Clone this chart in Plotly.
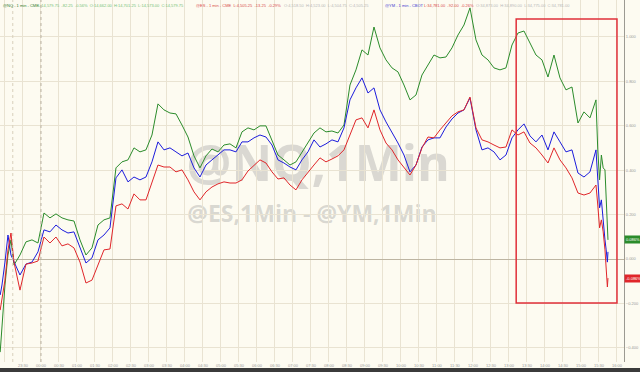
import plotly.graph_objects as go

# time axis: minutes from midnight (1-min bars sampled)
t_head = [-68, -65, -60, -55, -50]
t_grid = list(range(-45, 926, 10))
t_tail = [928, 931, 934, 937, 940, 942, 944, 945]
times = t_head + t_grid + t_tail

# % change, @NQ (green)
nq = ([-0.419, -0.297, -0.117, 0.018, 0.086] +
      [-0.027, 0.018, 0.077, 0.086, 0.072, 0.207, 0.185, 0.203, 0.185, 0.176,
       0.171, 0.086, 0.018, 0.050, 0.153, 0.176, 0.185, 0.410, 0.437, 0.446,
       0.500, 0.482, 0.491, 0.558, 0.698, 0.671, 0.657, 0.653, 0.603, 0.549,
       0.464, 0.410, 0.464, 0.495, 0.482, 0.513, 0.518, 0.500, 0.572, 0.590,
       0.581, 0.599, 0.599, 0.536, 0.468, 0.446, 0.423, 0.437, 0.482, 0.527,
       0.567, 0.590, 0.572, 0.576, 0.567, 0.603, 0.783, 0.851, 0.941, 0.918,
       1.044, 0.950, 0.896, 0.860, 0.842, 0.783, 0.716, 0.738, 0.828, 0.873,
       0.918, 0.905, 0.909, 0.950, 1.008, 1.053, 1.130, 0.986, 0.918, 0.896,
       0.860, 0.851, 0.860, 0.963, 1.017, 1.026, 0.972, 0.918, 0.896, 0.819,
       0.918, 0.815, 0.761, 0.774, 0.612, 0.662, 0.635, 0.716] +
      [0.491, 0.356, 0.468, 0.410, 0.401, 0.266, 0.131, 0.086])

# % change, @YM (blue)
ym = ([-0.162, -0.117, -0.014, 0.108, 0.018] +
      [-0.014, -0.072, -0.023, -0.014, 0.032, 0.131, 0.122, 0.153, 0.131, 0.117,
       0.122, 0.054, -0.018, 0.005, 0.086, 0.108, 0.140, 0.365, 0.401, 0.347,
       0.369, 0.356, 0.369, 0.437, 0.527, 0.491, 0.500, 0.482, 0.464, 0.477,
       0.410, 0.369, 0.423, 0.446, 0.468, 0.491, 0.491, 0.482, 0.527, 0.527,
       0.545, 0.558, 0.549, 0.513, 0.446, 0.432, 0.414, 0.401, 0.446, 0.482,
       0.536, 0.504, 0.518, 0.536, 0.527, 0.590, 0.716, 0.770, 0.815, 0.747,
       0.770, 0.671, 0.617, 0.572, 0.522, 0.468, 0.392, 0.423, 0.504, 0.536,
       0.545, 0.545, 0.594, 0.630, 0.657, 0.671, 0.725, 0.581, 0.491, 0.500,
       0.482, 0.446, 0.468, 0.545, 0.581, 0.608, 0.554, 0.527, 0.558, 0.491,
       0.572, 0.527, 0.482, 0.491, 0.387, 0.369, 0.392, 0.491] +
      [0.378, 0.230, 0.266, 0.153, 0.086, 0.041, -0.014, 0.032])

# % change, @ES (red)
es = ([-0.230, -0.185, -0.095, 0.041, 0.117] +
      [-0.014, -0.140, -0.023, -0.018, -0.009, 0.099, 0.072, 0.099, 0.059, 0.068,
       0.050, -0.014, -0.108, -0.095, -0.027, 0.041, 0.045, 0.239, 0.248, 0.225,
       0.293, 0.266, 0.266, 0.342, 0.423, 0.414, 0.414, 0.392, 0.401, 0.356,
       0.302, 0.266, 0.302, 0.324, 0.338, 0.347, 0.342, 0.342, 0.356, 0.396,
       0.419, 0.446, 0.432, 0.392, 0.360, 0.365, 0.333, 0.311, 0.356, 0.392,
       0.423, 0.455, 0.437, 0.450, 0.464, 0.491, 0.558, 0.626, 0.635, 0.590,
       0.671, 0.581, 0.522, 0.491, 0.446, 0.414, 0.378, 0.423, 0.500, 0.549,
       0.545, 0.581, 0.612, 0.644, 0.662, 0.671, 0.729, 0.590, 0.536, 0.527,
       0.513, 0.500, 0.504, 0.581, 0.558, 0.572, 0.522, 0.500, 0.468, 0.432,
       0.500, 0.446, 0.410, 0.365, 0.297, 0.288, 0.297, 0.333] +
      [0.243, 0.140, 0.176, 0.122, 0.041, -0.027, -0.126, -0.086])

y_ticks = [-0.4, -0.2, 0.0, 0.2, 0.4, 0.6, 0.8, 1.0]
x_ticks = list(range(-60, 961, 30))
x_labels = [f"{(v // 60) % 24:02d}:{v % 60:02d}" for v in x_ticks]

GREEN = "#2b8c2b"
BLUE = "#1c1cdc"
RED = "#e0262a"
BG = "#fdfbf1"
GRID = "#e9e3d2"

fig = go.Figure()
for name, vals, col in [("@NQ", nq, GREEN), ("@YM", ym, BLUE), ("@ES", es, RED)]:
    fig.add_trace(go.Scatter(x=times, y=vals, mode="lines", name=name,
                             line=dict(color=col, width=1)))

fig.update_layout(
    width=640, height=372,
    margin=dict(l=0, r=16, t=0, b=10),
    paper_bgcolor=BG, plot_bgcolor=BG,
    showlegend=False,
    xaxis=dict(range=[-68.3, 971.7], tickvals=x_ticks, ticktext=x_labels,
               showgrid=True, gridcolor=GRID, gridwidth=1, zeroline=False,
               tickfont=dict(size=4, color="#9a9a9a", family="Liberation Sans"),
               ticks="", showline=False, ticklabelstandoff=0),
    yaxis=dict(range=[-0.4635, 1.1655], side="right", tickvals=y_ticks,
               tickformat=".3f", ticksuffix="%",
               showgrid=True, gridcolor=GRID, gridwidth=1,
               zeroline=True, zerolinecolor="#bdb5a2", zerolinewidth=1,
               showline=True, linecolor="#9c9a92", linewidth=1,
               tickfont=dict(size=4, color="#9a9a9a", family="Liberation Sans"),
               ticks=""),
)

# session markers
fig.add_vline(x=-47, line=dict(color="#d8d0bc", width=1, dash="dot"))
fig.add_vline(x=0, line=dict(color="#b9b1a0", width=1, dash="dot"))

# highlight box
fig.add_shape(type="rect", x0=792, x1=960, y0=-0.198, y1=1.080,
              line=dict(color="#e0303a", width=1.5), fillcolor="rgba(0,0,0,0)")

# watermarks (under traces)
fig.add_shape(type="rect", xref="paper", yref="paper", x0=0.2, x1=0.82, y0=0.47, y1=0.62,
              line=dict(width=0), fillcolor="rgba(0,0,0,0)", layer="between",
              label=dict(text="<b>@NQ,1Min</b>", textposition="middle center",
                         font=dict(size=50, color="rgba(150,150,150,0.34)", family="Open Sans")))
fig.add_shape(type="rect", xref="paper", yref="paper", x0=0.2, x1=0.8, y0=0.36, y1=0.45,
              line=dict(width=0), fillcolor="rgba(0,0,0,0)", layer="between",
              label=dict(text="<b>@ES,1Min - @YM,1Min</b>", textposition="middle center",
                         font=dict(size=23, color="rgba(150,150,150,0.36)", family="Open Sans")))

# bottom dark bar
fig.add_shape(type="rect", xref="paper", yref="paper", x0=0, x1=1.03, y0=-0.0166, y1=-0.03,
              line=dict(width=0), fillcolor="#3b3b3b")

# last value labels
for vals, col in [(nq, GREEN), (es, RED)]:
    fig.add_annotation(x=1.0, xref="paper", y=vals[-1], yref="y", xanchor="left",
                       text=f"{vals[-1]:.3f}%", showarrow=False, bgcolor=col,
                       font=dict(size=4, color="white", family="Liberation Sans"),
                       borderpad=1)

# header text row
header = [
    (1, "@NQ - 1 min - CME", "#2a7a2a"),
    (36, "L:14,579.75  -82.25  -0.56%  O:14,662.00  H:14,701.25  L:14,573.00  C:14,579.75", "#76c276"),
    (194, "@ES - 1 min - CME  L:4,505.25  -13.25  -0.29%", "#d84a4a"),
    (282, "O:4,518.50  H:4,523.00  L:4,504.75  C:4,505.25", "#b8b8b8"),
    (383, "@YM - 1 min - CBOT", "#3a3ad0"),
    (422, "L:34,781.00  -92.00  -0.26%", "#d84a4a"),
    (474, "O:34,873.00  H:34,890.00  L:34,775.00  C:34,781.00", "#b8b8b8"),
]
for xp, txt, col in header:
    fig.add_annotation(x=xp / 624, xref="paper", y=1, yref="paper", xanchor="left",
                       yanchor="top", yshift=-1, text=txt, showarrow=False,
                       font=dict(size=4, color=col, family="Liberation Sans"))

fig.write_html("out.html")
